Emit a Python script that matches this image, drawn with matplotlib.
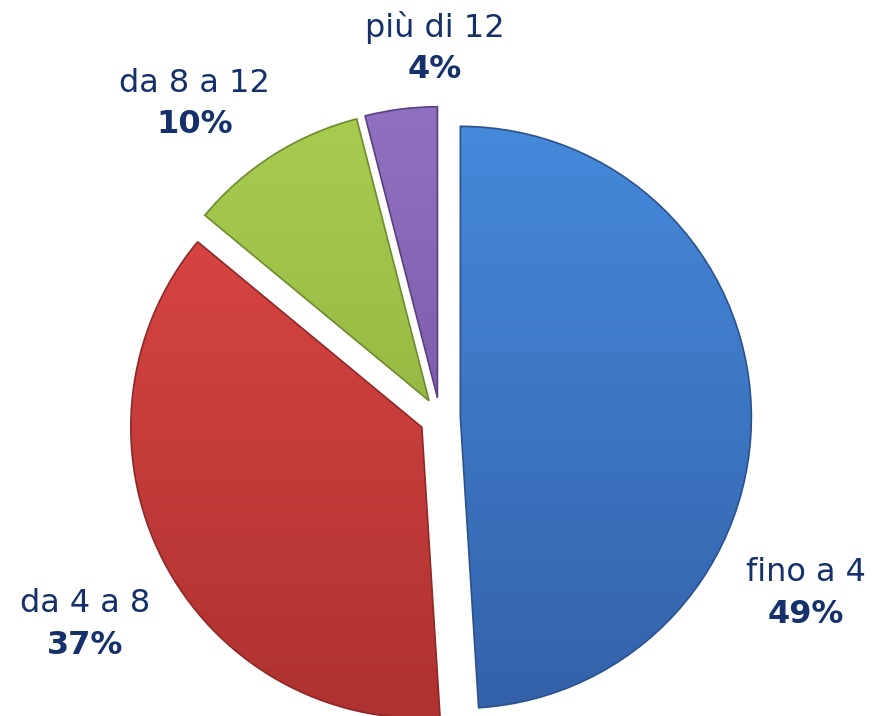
import matplotlib
matplotlib.use('Agg')
import matplotlib.pyplot as plt
import matplotlib.colors as mcolors
import numpy as np

# data
categories = ['fino a 4', 'da 4 a 8', 'da 8 a 12', 'più di 12']
shares = [49, 37, 10, 4]
pct_labels = ['49%', '37%', '10%', '4%']

# style
top_colors = ['#4589DA', '#DE4846', '#A8CC50', '#9070C0']
bottom_colors = ['#3462AA', '#AE3230', '#88A838', '#6E4E98']
edge_colors = ['#2C528E', '#8E2828', '#6E8A2C', '#5A3E80']
text_color = '#15306B'
# label anchors in axes fraction (x, y)
label_pos = [(0.923, 0.171), (0.097, 0.128), (0.223, 0.855), (0.498, 0.932)]

W, H = 873, 716
R_PX = 291.0
CX, CY = 440.0, 418.0

fig = plt.figure(figsize=(W / 100, H / 100), dpi=100)
ax = fig.add_axes([0, 0, 1, 1])

wedges, _ = ax.pie(shares, startangle=90, counterclock=False,
                   explode=[0.07] * len(shares), radius=1.0,
                   wedgeprops=dict(linewidth=1.2), frame=True)
ax.set_aspect('auto')
ax.axis('off')

# vertical gradient clipped to each wedge
grad = np.linspace(0, 1, 256).reshape(-1, 1)
for w, c0, c1, ec in zip(wedges, top_colors, bottom_colors, edge_colors):
    w.set_facecolor('none')
    w.set_edgecolor(ec)
    w.set_zorder(3)
    cmap = mcolors.LinearSegmentedColormap.from_list('g', [c1, c0])
    x0, y0 = w.center
    im = ax.imshow(grad, cmap=cmap, origin='lower', aspect='auto',
                   extent=[x0 - 1, x0 + 1, y0 - 1, y0 + 1], zorder=2,
                   interpolation='bilinear')
    im.set_clip_path(w)

# 291 px per unit in both directions, pie centre at (440, 418) px
ax.set_xlim(-CX / R_PX, (W - CX) / R_PX)
ax.set_ylim(-(H - CY) / R_PX, CY / R_PX)

for (lx, ly), cat, pct in zip(label_pos, categories, pct_labels):
    ax.text(lx, ly + 0.029, cat, transform=ax.transAxes, ha='center', va='center',
            fontsize=23, color=text_color, family='DejaVu Sans')
    ax.text(lx, ly - 0.029, pct, transform=ax.transAxes, ha='center', va='center',
            fontsize=23, color=text_color, fontweight='bold', family='DejaVu Sans')

fig.savefig('out.png', dpi=100, facecolor='white')
